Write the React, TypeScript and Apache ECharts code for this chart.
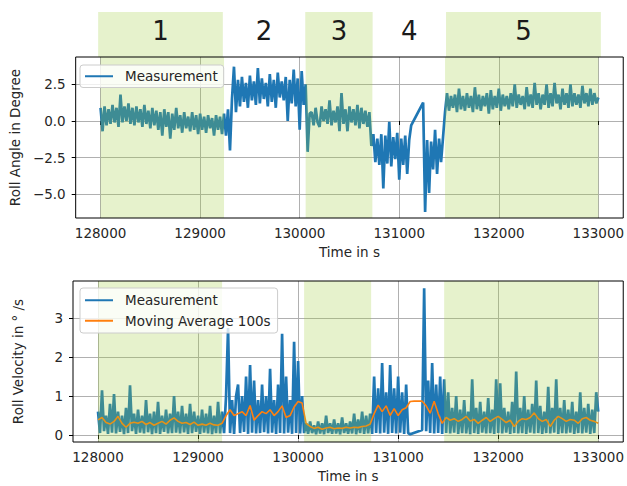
import React, { useEffect, useRef } from "react";
import * as echarts from "echarts";

// ---------- data ----------
const T0 = 128000; // s, first sample
const DT = 20; // s, sampling step of the measurements
const DT_AVG = 40; // s, sampling step of the moving average

// Roll angle in degree, one value every DT seconds from T0 (null = no data)
const rollAngle: (number | null)[] = [
  0.9, -0.7, 1.0, -0.3, 0.8, -0.2, 1.1, -0.1, 0.9, -0.4, // 128000
  1.8, -0.1, 1.0, 0.0, 1.2, -0.2, 0.9, -0.3, 1.0, -0.1, // 128200
  0.8, -0.4, 1.1, -0.2, 0.7, -0.5, 0.9, -0.3, 0.7, -0.6, // 128400
  0.6, -1.0, 0.8, -0.4, 0.6, -1.2, 0.5, -0.6, 0.9, -0.5, // 128600
  0.4, -0.8, 0.6, -0.5, 0.3, -0.7, 0.6, -0.6, 0.4, -0.9, // 128800
  0.5, -0.6, 0.3, -0.8, 0.4, -0.5, 0.2, -1.0, 0.4, -0.6, // 129000
  0.3, -0.9, 0.5, -1.0, 0.8, -2.0, 1.5, 3.7, 0.6, 2.8, // 129200
  1.0, 3.0, 1.3, 2.6, 0.9, 3.1, 1.4, 2.7, 1.1, 3.6, // 129400
  1.2, 2.9, 1.5, 2.6, 1.0, 3.2, 1.3, 2.8, 0.9, 3.3, // 129600
  1.6, 2.7, 1.4, 3.0, 0.0, 2.8, 1.2, 3.5, 1.0, 2.9, // 129800
  -0.6, 3.4, 1.1, 2.5, -2.1, 0.5, 0.6, -0.3, 0.9, -0.1, // 130000
  -0.4, 1.0, 0.0, 0.8, -0.2, 1.4, -0.3, 0.7, -0.1, 1.0, // 130200
  -0.7, 1.9, -0.2, 0.8, -0.7, 1.0, -0.1, 0.8, -0.3, 1.1, // 130400
  -0.5, 0.9, -0.2, 0.7, -0.4, 0.6, -1.7, -0.9, -2.8, -1.2, // 130600
  -3.0, -0.9, -4.6, -1.0, -2.9, -0.05, -3.1, -1.1, -2.6, -0.8, // 130800
  -4.0, -1.2, -3.0, -1.0, -3.6, -1.3, -0.3, null, null, null, // 131000
  null, null, 1.25, -6.2, -1.3, -4.9, -1.4, -3.3, -0.6, -3.6, // 131200
  -1.2, -2.8, -1.1, 0.6, 1.9, 0.7, 1.7, 0.9, 1.8, 0.6, // 131400
  2.2, 0.8, 1.7, 0.7, 1.9, 0.9, 1.7, 0.6, 2.3, 0.8, // 131600
  1.8, 0.7, 1.7, 1.0, 1.9, 0.5, 2.1, 0.8, 1.7, 0.9, // 131800
  2.2, 0.7, 1.8, 1.0, 1.7, 0.8, 1.9, 1.0, 2.5, 0.9, // 132000
  1.8, 1.1, 1.7, 0.8, 2.3, 1.0, 1.8, 0.9, 2.6, 1.1, // 132200
  1.9, 0.8, 1.8, 1.1, 2.5, 0.9, 1.9, 1.0, 2.6, 1.2, // 132400
  1.8, 0.8, 2.2, 1.1, 1.9, 0.9, 2.5, 1.0, 1.9, 1.1, // 132600
  1.8, 0.9, 2.4, 1.2, 1.9, 1.0, 2.2, 1.1, 1.9, 1.2, // 132800
  1.6, // 133000
];

// Roll velocity in deg/s, one value every DT seconds from T0 (null = no data)
const rollVelocity: (number | null)[] = [
  0.6, 0.05, 1.15, 0.1, 0.5, 0.03, 0.8, 0.06, 1.05, 0.04, // 128000
  0.6, 0.08, 0.5, 0.02, 0.7, 0.05, 1.28, 0.1, 0.55, 0.03, // 128200
  0.65, 0.06, 0.5, 0.04, 0.9, 0.07, 0.55, 0.02, 0.6, 0.05, // 128400
  0.85, 0.03, 0.5, 0.08, 0.65, 0.04, 0.55, 0.05, 1.0, 0.06, // 128600
  0.6, 0.04, 0.75, 0.07, 0.55, 0.03, 0.8, 0.05, 0.6, 0.08, // 128800
  0.5, 0.03, 0.65, 0.06, 0.55, 0.04, 0.75, 0.02, 0.5, 0.05, // 129000
  0.85, 0.04, 0.6, 0.05, 1.0, 2.75, 0.05, 0.9, 0.03, 1.0, // 129200
  1.3, 0.05, 1.0, 0.08, 1.5, 0.03, 1.8, 0.06, 1.4, 0.04, // 129400
  0.9, 0.05, 1.3, 0.07, 1.0, 0.04, 1.7, 0.06, 0.9, 0.03, // 129600
  1.3, 0.05, 2.6, 0.04, 1.5, 0.06, 0.9, 0.03, 2.4, 0.05, // 129800
  1.9, 0.04, 1.0, 0.05, 0.3, 0.03, 0.35, 0.05, 0.25, 0.02, // 130000
  0.35, 0.04, 0.3, 0.02, 0.5, 0.05, 0.3, 0.03, 0.4, 0.04, // 130200
  0.3, 0.02, 0.45, 0.05, 0.3, 0.03, 0.35, 0.04, 0.55, 0.02, // 130400
  0.4, 0.05, 0.6, 0.03, 0.5, 0.04, 0.55, 0.03, 1.5, 0.05, // 130600
  1.2, 0.04, 1.85, 0.06, 1.1, 0.03, 1.8, 0.05, 1.2, 0.04, // 130800
  1.5, 0.06, 1.1, 0.03, 1.3, 0.05, 0.02, null, null, null, // 131000
  null, null, 0.13, 3.77, 0.1, 1.4, 0.05, 1.85, 0.04, 1.3, // 131200
  0.05, 1.5, 0.03, 1.43, 0.05, 1.1, 0.04, 0.7, 0.06, 1.0, // 131400
  0.03, 0.65, 0.05, 0.9, 0.04, 0.6, 0.02, 1.43, 0.05, 0.7, // 131600
  0.03, 0.85, 0.06, 0.6, 0.04, 0.95, 0.05, 0.65, 0.03, 1.43, // 131800
  0.05, 1.33, 0.04, 0.7, 0.06, 0.6, 0.03, 0.85, 0.05, 1.63, // 132000
  0.04, 0.7, 0.05, 1.0, 0.03, 0.65, 0.06, 0.8, 0.04, 1.4, // 132200
  0.05, 0.75, 0.03, 0.6, 0.05, 1.24, 0.04, 0.7, 0.06, 1.43, // 132400
  0.03, 0.7, 0.05, 0.9, 0.04, 0.65, 0.06, 0.85, 0.03, 0.6, // 132600
  0.05, 1.1, 0.04, 0.7, 0.06, 0.8, 0.03, 0.65, 0.05, 1.1, // 132800
  0.6, // 133000
];

// Moving average (100 s) of the roll velocity, one value every DT_AVG seconds
const movingAverage: number[] = [
  0.39, 0.45, 0.32, 0.28, 0.35, 0.48, 0.3, 0.2, 0.3, 0.33, // 128000
  0.3, 0.35, 0.27, 0.32, 0.25, 0.3, 0.35, 0.28, 0.38, 0.44, // 128400
  0.35, 0.3, 0.32, 0.27, 0.33, 0.25, 0.28, 0.25, 0.3, 0.26, // 128800
  0.25, 0.3, 0.5, 0.65, 0.5, 0.55, 0.6, 0.5, 0.76, 0.38, // 129200
  0.5, 0.6, 0.55, 0.65, 0.5, 0.6, 0.75, 0.45, 0.5, 0.72, // 129600
  0.86, 0.82, 0.3, 0.22, 0.17, 0.2, 0.15, 0.18, 0.2, 0.16, // 130000
  0.18, 0.17, 0.2, 0.18, 0.2, 0.19, 0.22, 0.23, 0.28, 0.55, // 130400
  0.77, 0.6, 0.75, 0.5, 0.68, 0.5, 0.65, 0.7, 0.86, 0.87, // 130800
  0.87, 0.87, 0.75, 0.56, 0.87, 0.55, 0.3, 0.45, 0.38, 0.42, // 131200
  0.35, 0.4, 0.48, 0.36, 0.4, 0.3, 0.38, 0.45, 0.35, 0.42, // 131600
  0.48, 0.4, 0.32, 0.38, 0.22, 0.35, 0.42, 0.4, 0.45, 0.57, // 132000
  0.42, 0.35, 0.4, 0.22, 0.38, 0.48, 0.42, 0.35, 0.4, 0.38, // 132400
  0.3, 0.42, 0.45, 0.38, 0.35, 0.3, // 132800
];

// Phases of the manoeuvre
const regionEdges = [128000, 129240, 130060, 130730, 131460, 133000];
const regionLabels = ["1", "2", "3", "4", "5"];
const shadedRegions = [0, 2, 4];

// Axes
const xRange = [127750, 133250];
const xTicks = [128000, 129000, 130000, 131000, 132000, 133000];
const angleRange = [-6.61, 4.36];
const angleTicks = [-5, -2.5, 0, 2.5];
const velocityRange = [-0.18, 3.96];
const velocityTicks = [0, 1, 2, 3];

// ---------- styling ----------
const FONT = "DejaVu Sans";
const TXT = "#262626";
const BLUE = "#1f77b4";
const ORANGE = "#ff7f0e";
const GREEN = "rgba(154,205,50,0.25)";
const FS = 13.5;

const toPairs = (vals: (number | null)[], step: number) =>
  vals
    .map((v, i) => (v === null ? null : [T0 + i * step, v]))
    .filter((p) => p !== null) as number[][];

const regionData = regionLabels.map((_, i) => [regionEdges[i], regionEdges[i + 1]]);
const shadeData = shadedRegions.map((i) => [regionEdges[i], regionEdges[i + 1]]);

const minus = (s: string) => s.replace("-", "\u2212");

function xAxisFor(gridIndex: number) {
  return {
    type: "value",
    gridIndex,
    min: xRange[0],
    max: xRange[1],
    axisLine: { show: false },
    axisTick: {
      show: true,
      customValues: xTicks,
      length: 4,
      lineStyle: { color: "#000", width: 1 },
    },
    axisLabel: {
      customValues: xTicks,
      formatter: (v: number) => String(v),
      fontFamily: FONT,
      fontSize: FS,
      color: TXT,
      margin: 8,
    },
    splitLine: { show: true, lineStyle: { color: "#b0b0b0", width: 1 } },
    name: "Time in s",
    nameLocation: "middle",
    nameGap: 27,
    nameTextStyle: { fontFamily: FONT, fontSize: FS, color: TXT },
  };
}

function yAxisFor(gridIndex: number, range: number[], ticks: number[], name: string, fmt: (v: number) => string) {
  return {
    type: "value",
    gridIndex,
    min: range[0],
    max: range[1],
    axisLine: { show: false },
    axisTick: {
      show: true,
      customValues: ticks,
      length: 4,
      lineStyle: { color: "#000", width: 1 },
    },
    axisLabel: {
      customValues: ticks,
      formatter: fmt,
      fontFamily: FONT,
      fontSize: FS,
      color: TXT,
      margin: 10,
    },
    splitLine: { show: true, lineStyle: { color: "#b0b0b0", width: 1 } },
    name,
    nameLocation: "middle",
    nameGap: 48,
    nameRotate: 90,
    nameTextStyle: { fontFamily: FONT, fontSize: FS, color: TXT },
  };
}

const shadeRenderer = (params: any, api: any) => {
  const cs = params.coordSys;
  const a = api.coord([api.value(0), 0])[0];
  const b = api.coord([api.value(1), 0])[0];
  return {
    type: "rect",
    silent: true,
    shape: { x: a, y: cs.y, width: b - a, height: cs.height },
    style: { fill: GREEN },
  };
};

const bandRenderer = (params: any, api: any) => {
  const cs = params.coordSys;
  const i = params.dataIndex;
  const a = api.coord([api.value(0), 0])[0];
  const b = api.coord([api.value(1), 0])[0];
  const children: any[] = [];
  if (shadedRegions.includes(i)) {
    children.push({
      type: "rect",
      shape: { x: a, y: cs.y, width: b - a, height: cs.height },
      style: { fill: GREEN },
    });
  }
  children.push({
    type: "text",
    x: (a + b) / 2,
    y: cs.y + cs.height / 2 - 4,
    style: {
      text: regionLabels[i],
      fontFamily: FONT,
      fontSize: 26,
      fill: "#1a1a1a",
      align: "center",
      verticalAlign: "middle",
    },
  });
  return { type: "group", silent: true, children };
};

const legendBase = {
  orient: "vertical",
  left: 80,
  icon: "rect",
  itemWidth: 28,
  itemHeight: 2,
  itemGap: 4,
  backgroundColor: "rgba(255,255,255,0.8)",
  borderColor: "#cccccc",
  borderWidth: 1,
  borderRadius: 3,
  selectedMode: false,
  z: 20,
  textStyle: { fontFamily: FONT, fontSize: FS, color: TXT, padding: [0, 0, 0, 7], lineHeight: 16.5 },
};

export default function App() {
  const ref = useRef<HTMLDivElement>(null);

  useEffect(() => {
    if (!ref.current) return;
    const chart = echarts.init(ref.current, undefined, { renderer: "svg" });
    const lineCommon = {
      type: "line",
      symbol: "none",
      showSymbol: false,
      silent: true,
      clip: true,
      z: 2,
    };
    chart.setOption({
      animation: false,
      backgroundColor: "#ffffff",
      textStyle: { fontFamily: FONT },
      grid: [
        { left: 73, right: 1, top: 12, height: 45, show: false },
        { left: 73, right: 1, top: 57, height: 161, show: true, borderColor: "#000", borderWidth: 1, backgroundColor: "transparent", z: 10 },
        { left: 73, right: 1, top: 281, height: 161, show: true, borderColor: "#000", borderWidth: 1, backgroundColor: "transparent", z: 10 },
      ],
      xAxis: [
        { type: "value", gridIndex: 0, min: xRange[0], max: xRange[1], show: false },
        xAxisFor(1),
        xAxisFor(2),
      ],
      yAxis: [
        { type: "value", gridIndex: 0, min: 0, max: 1, show: false },
        yAxisFor(1, angleRange, angleTicks, "Roll Angle in Degree", (v) => minus(v.toFixed(1))),
        yAxisFor(2, velocityRange, velocityTicks, "Roll Velocity in \u00b0 /s", (v) => String(v)),
      ],
      legend: [
        { ...legendBase, top: 65, padding: [3, 6, 3, 5], data: ["Measurement"] },
        { ...legendBase, top: 288, padding: [4, 7, 4, 5], data: ["Measurement", "Moving Average 100s"] },
      ],
      series: [
        {
          type: "custom",
          name: "phases",
          xAxisIndex: 0,
          yAxisIndex: 0,
          encode: { x: [0, 1] },
          renderItem: bandRenderer,
          data: regionData,
          silent: true,
          z: 1,
        },
        {
          ...lineCommon,
          name: "Measurement",
          xAxisIndex: 1,
          yAxisIndex: 1,
          data: toPairs(rollAngle, DT),
          lineStyle: { color: BLUE, width: 2.7, join: "bevel" },
          itemStyle: { color: BLUE },
        },
        {
          type: "custom",
          name: "shadeTop",
          xAxisIndex: 1,
          yAxisIndex: 1,
          encode: { x: [0, 1] },
          renderItem: shadeRenderer,
          data: shadeData,
          silent: true,
          z: 3,
        },
        {
          ...lineCommon,
          name: "Measurement",
          xAxisIndex: 2,
          yAxisIndex: 2,
          data: toPairs(rollVelocity, DT),
          lineStyle: { color: BLUE, width: 2.7, join: "bevel" },
          itemStyle: { color: BLUE },
        },
        {
          ...lineCommon,
          name: "Moving Average 100s",
          xAxisIndex: 2,
          yAxisIndex: 2,
          data: toPairs(movingAverage, DT_AVG),
          lineStyle: { color: ORANGE, width: 1.6 },
          itemStyle: { color: ORANGE },
        },
        {
          type: "custom",
          name: "shadeBottom",
          xAxisIndex: 2,
          yAxisIndex: 2,
          encode: { x: [0, 1] },
          renderItem: shadeRenderer,
          data: shadeData,
          silent: true,
          z: 3,
        },
      ],
    });
    return () => chart.dispose();
  }, []);

  return (
    <div style={{ position: "fixed", left: 0, top: 0, width: 627, height: 486, background: "#fff" }}>
      <div ref={ref} style={{ width: 627, height: 486 }} />
    </div>
  );
}
